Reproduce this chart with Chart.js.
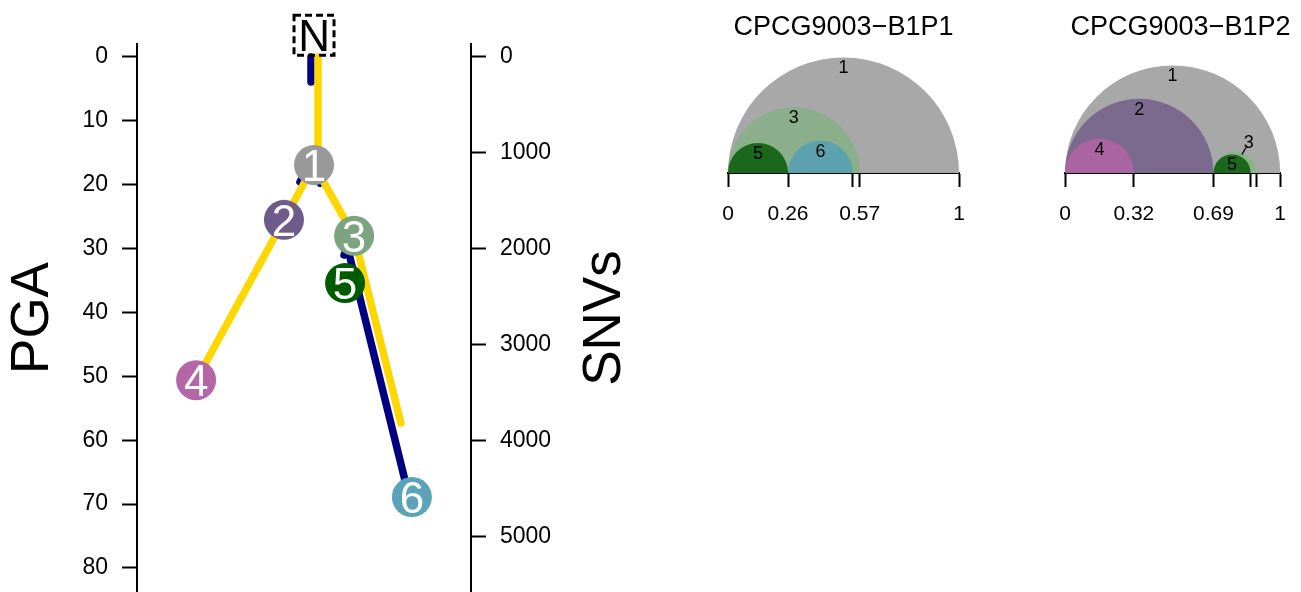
<!DOCTYPE html>
<html>
<head>
<meta charset="utf-8">
<script src="https://cdn.jsdelivr.net/npm/chart.js@4.4.0/dist/chart.umd.min.js"></script>
<style>
  body { margin: 0; background: #fff; }
  #wrap { position: relative; width: 1301px; height: 592px; overflow: hidden; }
  .box { position: absolute; top: 0; }
</style>
</head>
<body>
<div id="wrap">
  <div class="box" id="treeBox" style="left:0;width:650px;height:592px"><canvas id="tree"></canvas></div>
  <div class="box" style="left:700px;width:290px;height:240px"><canvas id="ccf1"></canvas></div>
  <div class="box" style="left:1037px;width:264px;height:240px"><canvas id="ccf2"></canvas></div>
</div>
<script>
// Baum: Knoten (x = Position im Baum, y = PGA)
const nodeLabels = ['N', '1', '2', '3', '4', '5', '6'];
const nodeX = [0.530, 0.530, 0.440, 0.650, 0.177, 0.623, 0.823];
const nodePGA = [-3.4, 16.9, 25.5, 28.0, 50.6, 35.4, 68.9];
const nodeColors = ['#ffffff', '#999999', '#6F5B8A', '#7BA47F', '#B566A7', '#005A00', '#5AA3B8'];

// Äste nach PGA (gelb)
const pgaBranchX = [[0.542, 0.542], [0.530, 0.177], [0.530, 0.650], [0.650, 0.790]];
const pgaBranchY = [[0, 16.9], [16.9, 50.6], [16.9, 28.0], [28.0, 57.3]];

// Äste nach SNVs (dunkelblau)
const snvBranchX = [[0.521, 0.521], [0.518, 0.488], [0.521, 0.548], [0.638, 0.620], [0.632, 0.805]];
const snvBranchY = [[0, 260], [1125, 1302], [1125, 1313], [1865, 2063], [2010, 4448]];

const pgaTicks = [0, 10, 20, 30, 40, 50, 60, 70, 80];
const pgaTickLabels = ['0', '10', '20', '30', '40', '50', '60', '70', '80'];
const snvTicks = [0, 1000, 2000, 3000, 4000, 5000];
const snvTickLabels = ['0', '1000', '2000', '3000', '4000', '5000'];

// CCF-Halbkreise
const ccf1Clones = ['1', '3', '5', '6'];
const ccf1Start = [0, 0, 0, 0.26];
const ccf1End = [1, 0.57, 0.26, 0.54];
const ccf1Colors = ['#A8A8A8', '#8BAE8B', '#1B671B', '#5BA2AE'];
const ccf1Ticks = [0, 0.26, 0.538, 0.57, 1];
const ccf1TickLabels = ['0', '0.26', '', '0.57', '1'];

const ccf2Clones = ['1', '2', '4', '3', '5'];
const ccf2Start = [0, 0, 0, 0.69, 0.69];
const ccf2End = [1, 0.69, 0.32, 0.889, 0.863];
const ccf2Colors = ['#A8A8A8', '#7B6A8D', '#A964A1', '#8BB48B', '#1B671B'];
const ccf2Ticks = [0, 0.32, 0.69, 0.863, 0.889, 1];
const ccf2TickLabels = ['0', '0.32', '0.69', '', '', '1'];

const FONT = '"Liberation Sans", Arial, sans-serif';
Chart.defaults.font.family = FONT;
Chart.defaults.color = '#000';

// Datensätze für den Baum
const treeSets = [];
treeSets.push({
    data: nodeX.map((x, i) => ({ x: x, y: nodePGA[i] })),
    yAxisID: 'y',
    pointRadius: nodeLabels.map(l => l === 'N' ? 0 : 20),
    pointBackgroundColor: nodeColors,
    pointBorderWidth: 0,
    showLine: false,
    clip: false,
    order: 0
});
pgaBranchX.forEach((xs, i) => treeSets.push({
    data: xs.map((x, j) => ({ x: x, y: pgaBranchY[i][j] })),
    yAxisID: 'y', showLine: true, borderColor: '#FFD700', borderWidth: 7.5,
    borderCapStyle: 'round', pointRadius: 0, clip: false, order: 1
}));
snvBranchX.forEach((xs, i) => treeSets.push({
    data: xs.map((x, j) => ({ x: x, y: snvBranchY[i][j] })),
    yAxisID: 'y2', showLine: true, borderColor: '#000080', borderWidth: 7.5,
    borderCapStyle: 'round', pointRadius: 0, clip: false, order: 2
}));

// Beschriftung der Knoten + Titel der SNV-Achse
const treeLabels = {
    id: 'treeLabels',
    afterDatasetsDraw(chart) {
        const ctx = chart.ctx;
        const meta = chart.getDatasetMeta(0);
        ctx.save();
        meta.data.forEach((pt, i) => {
            const lab = nodeLabels[i];
            ctx.textAlign = 'center';
            ctx.textBaseline = 'alphabetic';
            ctx.font = '44px ' + FONT;
            if (lab === 'N') {
                ctx.setLineDash([7, 4]);
                ctx.lineWidth = 3;
                ctx.strokeStyle = '#000';
                ctx.strokeRect(pt.x - 20, pt.y - 20, 40, 40);
                ctx.setLineDash([]);
                ctx.fillStyle = '#000';
            } else {
                ctx.fillStyle = '#fff';
            }
            ctx.fillText(lab, pt.x, pt.y + 16);
        });
        // SNVs title (von unten nach oben)
        ctx.translate(605, 318);
        ctx.rotate(-Math.PI / 2);
        ctx.font = '53px ' + FONT;
        ctx.fillStyle = '#000';
        ctx.textAlign = 'center';
        ctx.textBaseline = 'middle';
        ctx.fillText('SNVs', 0, 0);
        ctx.restore();
    }
};

function axisStyle(size, labels) {
    return {
        grid: { drawOnChartArea: false, drawTicks: true, tickLength: 15, tickWidth: 2, tickColor: '#000' },
        border: { display: true, color: '#000', width: 2 },
        ticks: { color: '#000', font: { size: size }, padding: 14, callback: (v, i) => labels[i] }
    };
}

function fixWidth(w) {
    return s => { s.width = w; s.paddingTop = 0; s.paddingBottom = 0; };
}

const treeChart = new Chart(document.getElementById('tree'), {
    type: 'scatter',
    data: { datasets: treeSets },
    options: {
        responsive: true, maintainAspectRatio: false, animation: false, events: [],
        layout: { padding: { top: 44, left: 0, right: 0, bottom: 0 } },
        plugins: { legend: { display: false }, tooltip: { enabled: false } },
        scales: {
            x: { type: 'linear', min: 0, max: 1, display: false },
            y: Object.assign(axisStyle(23, pgaTickLabels), {
                type: 'linear', position: 'left', reverse: true, min: -2.035, max: 83.76,
                afterBuildTicks: s => { s.ticks = pgaTicks.map(v => ({ value: v })); },
                afterFit: fixWidth(137),
                title: { display: true, text: 'PGA', color: '#000', font: { size: 53 }, padding: { top: 2, bottom: 0 } }
            }),
            y2: Object.assign(axisStyle(23, snvTickLabels), {
                type: 'linear', position: 'right', reverse: true, min: -135.4, max: 5573,
                afterBuildTicks: s => { s.ticks = snvTicks.map(v => ({ value: v })); },
                afterFit: fixWidth(179)
            })
        }
    },
    plugins: [treeLabels]
});

// Zeichenfläche so strecken, dass die Achsen bis zum unteren Rand reichen
const gap = 592 - treeChart.chartArea.bottom;
if (gap > 0.5) {
    document.getElementById('treeBox').style.height = (592 + gap) + 'px';
    treeChart.resize();
}

// Beschriftung der Halbkreise
const arcLabels = {
    id: 'arcLabels',
    afterDatasetsDraw(chart, args, opts) {
        const ctx = chart.ctx;
        const meta = chart.getDatasetMeta(0);
        const bottom = chart.chartArea.bottom;
        ctx.save();
        ctx.font = '18px ' + FONT;
        ctx.fillStyle = '#000';
        ctx.textAlign = 'center';
        ctx.textBaseline = 'middle';
        meta.data.forEach((pt, i) => {
            const lab = opts.clones[i];
            const r = pt.options.radius;
            let x = pt.x, y = bottom - r + 11;
            const shift = opts.shift && opts.shift[lab];
            if (shift) {
                ctx.lineWidth = 1.2;
                ctx.strokeStyle = '#000';
                ctx.beginPath();
                ctx.moveTo(x + 7, bottom - r + 3);
                ctx.lineTo(x + 11, bottom - r - 4);
                ctx.stroke();
                x += shift[0];
                y = bottom - r + shift[1];
            }
            ctx.fillText(lab, x, y);
        });
        ctx.restore();
    }
};

function ccfChart(id, title, clones, starts, ends, colors, ticks, tickLabels, padRight, shift) {
    new Chart(document.getElementById(id), {
        type: 'scatter',
        data: {
            datasets: [{
                data: clones.map((c, i) => ({ x: (starts[i] + ends[i]) / 2, y: 0 })),
                pointBackgroundColor: colors,
                pointBorderWidth: 0,
                pointRadius: ctx => {
                    const s = ctx.chart.scales.x;
                    const i = ctx.dataIndex;
                    return (s.getPixelForValue(ends[i]) - s.getPixelForValue(starts[i])) / 2;
                }
            }]
        },
        options: {
            responsive: true, maintainAspectRatio: false, animation: false, events: [],
            layout: { padding: { left: 28, right: padRight, top: 0, bottom: 0 } },
            plugins: {
                legend: { display: false }, tooltip: { enabled: false },
                title: { display: true, text: title, color: '#000', font: { size: 27, weight: 'normal' }, padding: { top: 11, bottom: 3 } },
                arcLabels: { clones: clones, shift: shift }
            },
            scales: {
                x: {
                    type: 'linear', min: 0, max: 1,
                    afterBuildTicks: s => { s.ticks = ticks.map(v => ({ value: v })); },
                    afterFit: s => { s.height = 67; },
                    grid: { drawOnChartArea: false, drawTicks: true, tickLength: 14, tickWidth: 2, tickColor: '#000' },
                    border: { display: true, color: '#000', width: 2 },
                    ticks: {
                        color: '#000', font: { size: 21 }, padding: 15, autoSkip: false, maxRotation: 0,
                        callback: (v, i) => tickLabels[i]
                    }
                },
                y: { type: 'linear', min: 0, max: 1, display: false }
            }
        },
        plugins: [arcLabels]
    });
}

ccfChart('ccf1', 'CPCG9003\u2212B1P1', ccf1Clones, ccf1Start, ccf1End, ccf1Colors, ccf1Ticks, ccf1TickLabels, 31, null);
ccfChart('ccf2', 'CPCG9003\u2212B1P2', ccf2Clones, ccf2Start, ccf2End, ccf2Colors, ccf2Ticks, ccf2TickLabels, 5, { '3': [14, -9] });
</script>
</body>
</html>
